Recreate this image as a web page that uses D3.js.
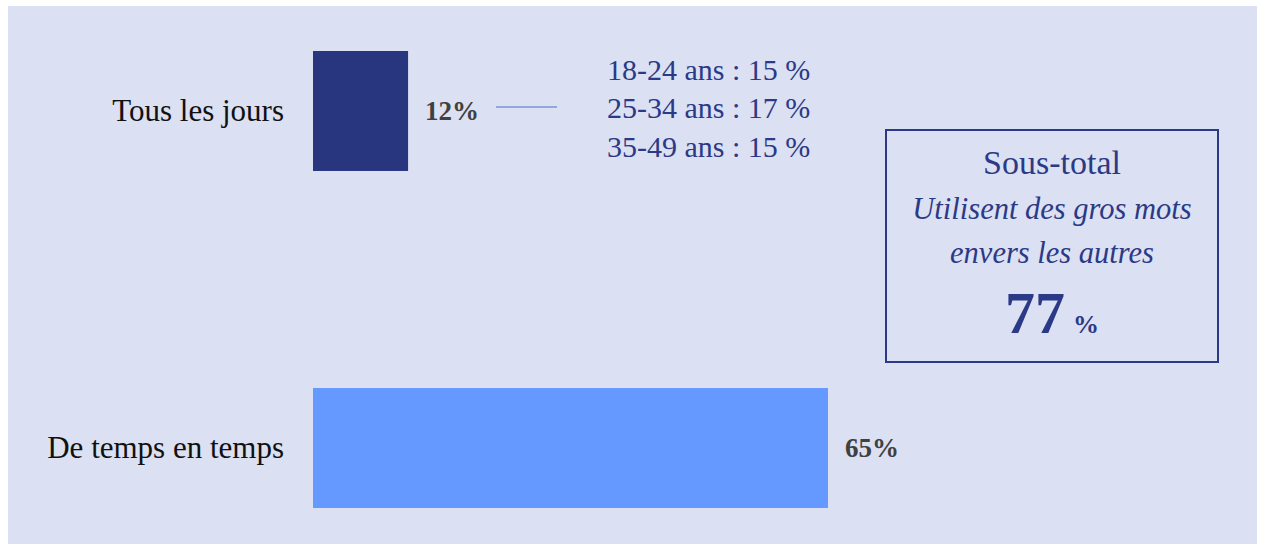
<!DOCTYPE html>
<html><head><meta charset="utf-8">
<script src="https://cdn.jsdelivr.net/npm/d3@7"></script>
<style>
html,body{margin:0;padding:0;background:#fff;}
svg{display:block;}
</style></head>
<body>
<svg id="chart" width="1261" height="544"></svg>
<script>
const categories = ["Tous les jours", "De temps en temps"];
const values = [12, 65];
const valueLabels = ["12%", "65%"];
const barColors = ["#283680", "#6699ff"];
const ageLines = ["18-24 ans : 15 %", "25-34 ans : 17 %", "35-49 ans : 15 %"];
const subtotalTitle = "Sous-total";
const subtotalLines = ["Utilisent des gros mots", "envers les autres"];
const subtotalValue = 77;

const svg = d3.select("#chart");
const serif = "'Liberation Serif', 'DejaVu Serif', serif";
const dark = "#2b3986";

svg.append("rect").attr("x", 8).attr("y", 6).attr("width", 1249).attr("height", 538).attr("fill", "#dbe0f2");

const x = d3.scaleLinear().domain([0, 100]).range([313, 1105.3]);
const y = d3.scaleBand().domain(categories).range([51, 508]).paddingInner(0.644).paddingOuter(0);

svg.selectAll("rect.bar").data(categories).join("rect")
  .attr("class", "bar")
  .attr("x", x(0))
  .attr("y", d => y(d))
  .attr("width", (d, i) => x(values[i]) - x(0))
  .attr("height", y.bandwidth())
  .attr("fill", (d, i) => barColors[i]);

svg.selectAll("text.cat").data(categories).join("text")
  .attr("class", "cat")
  .attr("x", 284)
  .attr("y", d => y(d) + y.bandwidth() / 2)
  .attr("dy", "0.32em")
  .attr("text-anchor", "end")
  .attr("font-family", serif)
  .attr("font-size", 31)
  .attr("fill", "#111")
  .text(d => d);

svg.selectAll("text.val").data(categories).join("text")
  .attr("class", "val")
  .attr("x", (d, i) => x(values[i]) + 17)
  .attr("y", d => y(d) + y.bandwidth() / 2)
  .attr("dy", "0.35em")
  .attr("font-family", serif)
  .attr("font-weight", "bold")
  .attr("font-size", 27)
  .attr("fill", "#404040")
  .text((d, i) => valueLabels[i]);

// connector
const cy = y(categories[0]) + y.bandwidth() / 2;
svg.append("line").attr("x1", 496).attr("x2", 557).attr("y1", cy - 4).attr("y2", cy - 4)
  .attr("stroke", "#4a6fc4").attr("stroke-width", 1.2);

svg.selectAll("text.age").data(ageLines).join("text")
  .attr("class", "age")
  .attr("x", 607)
  .attr("y", (d, i) => 69 + i * 38.5)
  .attr("dy", "0.35em")
  .attr("font-family", serif)
  .attr("font-size", 30)
  .attr("fill", dark)
  .text(d => d);

// subtotal box
svg.append("rect").attr("x", 886).attr("y", 130).attr("width", 332).attr("height", 232)
  .attr("fill", "none").attr("stroke", dark).attr("stroke-width", 2);
const bx = 1052;
svg.append("text").attr("x", bx).attr("y", 162).attr("dy", "0.35em").attr("text-anchor", "middle")
  .attr("font-family", serif).attr("font-size", 34).attr("fill", dark).text(subtotalTitle);
svg.selectAll("text.sub").data(subtotalLines).join("text")
  .attr("class", "sub")
  .attr("x", bx).attr("y", (d, i) => 208 + i * 44.5).attr("dy", "0.35em").attr("text-anchor", "middle")
  .attr("font-family", serif).attr("font-style", "italic").attr("font-size", 30.5).attr("fill", dark)
  .text(d => d);
const vt = svg.append("text").attr("x", bx).attr("y", 333).attr("text-anchor", "middle")
  .attr("font-family", serif).attr("font-weight", "bold").attr("fill", dark);
vt.append("tspan").attr("font-size", 60).text(String(subtotalValue));
vt.append("tspan").attr("font-size", 26).attr("dx", 8).text("%");
</script>
</body></html>
